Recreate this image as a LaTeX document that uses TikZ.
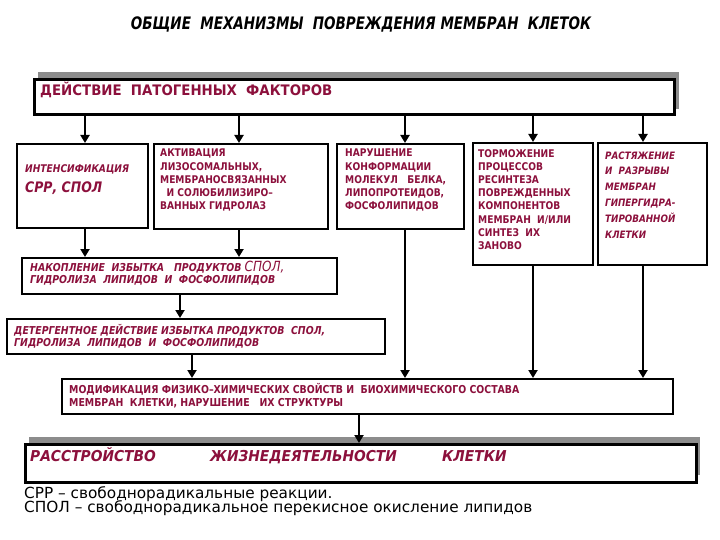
\documentclass[tikz,border=0pt]{standalone}
\usepackage{fontspec}
\setmainfont{DejaVu Sans}
\newfontfamily\cnd[FakeStretch=0.86]{DejaVu Sans}
\newfontfamily\cndt[FakeStretch=0.785]{DejaVu Sans}
\newfontfamily\cndw[FakeStretch=0.92]{DejaVu Sans}
\usetikzlibrary{arrows.meta}
\definecolor{dred}{RGB}{140,16,60}
\definecolor{shade}{RGB}{140,140,140}
\begin{document}
\begin{tikzpicture}[x=1pt,y=-1pt,
  box/.style={draw=black,line width=2.4pt,fill=white,inner sep=0pt,anchor=north west},
  bigbox/.style={box,line width=3.2pt},
  shadowbox/.style={fill=shade,draw=none,inner sep=0pt,anchor=north west},
  arr/.style={line width=2.6pt,-{Triangle[width=9pt,length=8pt]}},
  txt/.style={inner sep=0pt,anchor=north west,align=left,text=dred,
    font=\cnd\bfseries\fontsize{10.6}{13.2}\selectfont},
  itxt/.style={txt,font=\cnd\bfseries\itshape\fontsize{10.9}{12}\selectfont},
  bigword/.style={txt,anchor=base west,font=\cndw\bfseries\itshape\fontsize{15}{16}\selectfont},
  foot/.style={inner sep=0pt,anchor=base west,font=\fontsize{15.3}{16}\selectfont}
]
\useasboundingbox (0,0) rectangle (720,540);
\fill[white] (0,0) rectangle (720,540);

% title
\node[inner sep=0pt,font=\cndt\bfseries\itshape\fontsize{17.2}{18}\selectfont] (title) at (361,24)
  {ОБЩИЕ~~МЕХАНИЗМЫ~~ПОВРЕЖДЕНИЯ МЕМБРАН~~КЛЕТОК};

% top box with shadow
\node[shadowbox,minimum width=641,minimum height=37] (topsh) at (38,72) {};
\node[bigbox,minimum width=640,minimum height=35] (top) at (33,78) {};
\node[txt,anchor=base west,font=\cndw\bfseries\fontsize{14.5}{15}\selectfont] (toptxt) at (40,95.3)
  {ДЕЙСТВИЕ~~ПАТОГЕННЫХ~~ФАКТОРОВ};

% second row boxes
\node[box,minimum width=131,minimum height=84] (b1) at (16,143) {};
\node[box,minimum width=174,minimum height=85] (b2) at (153,143) {};
\node[box,minimum width=127,minimum height=85] (b3) at (336,143) {};
\node[box,minimum width=120,minimum height=122] (b4) at (472,142) {};
\node[box,minimum width=109,minimum height=122] (b5) at (597,142) {};

\node[itxt,anchor=base west,font=\cnd\bfseries\itshape\fontsize{10.6}{11}\selectfont] (t1a) at (25,172.8) {ИНТЕНСИФИКАЦИЯ};
\node[itxt,anchor=base west,font=\cnd\bfseries\itshape\fontsize{14.5}{16}\selectfont] (t1b) at (25,193) {СРР, СПОЛ};
\node[txt] (t2) at (160,149) {АКТИВАЦИЯ\\ЛИЗОСОМАЛЬНЫХ,\\МЕМБРАНОСВЯЗАННЫХ\\~~И СОЛЮБИЛИЗИРО–\\ВАННЫХ ГИДРОЛАЗ};
\node[txt] (t3) at (345,149) {НАРУШЕНИЕ\\КОНФОРМАЦИИ\\МОЛЕКУЛ~~~БЕЛКА,\\ЛИПОПРОТЕИДОВ,\\ФОСФОЛИПИДОВ};
\node[txt] (t4) at (478,149) {ТОРМОЖЕНИЕ\\ПРОЦЕССОВ\\РЕСИНТЕЗА\\ПОВРЕЖДЕННЫХ\\КОМПОНЕНТОВ\\МЕМБРАН~~И/ИЛИ\\СИНТЕЗ~~ИХ\\ЗАНОВО};
\node[itxt,font=\cnd\bfseries\itshape\fontsize{10.2}{15.8}\selectfont] (t5) at (605,151.3) {РАСТЯЖЕНИЕ\\И~~РАЗРЫВЫ\\МЕМБРАН\\ГИПЕРГИДРА-\\ТИРОВАННОЙ\\КЛЕТКИ};

% accumulation box
\node[box,minimum width=315,minimum height=36] (nak) at (21,257) {};
\node[itxt] (tnak) at (30,261) {НАКОПЛЕНИЕ~~ИЗБЫТКА~~~ПРОДУКТОВ {\mdseries\fontsize{14}{12}\selectfont СПОЛ,}\\ГИДРОЛИЗА~~ЛИПИДОВ~~И~~ФОСФОЛИПИДОВ};

% detergent box
\node[box,minimum width=378,minimum height=35] (det) at (6,318) {};
\node[itxt] (tdet) at (14,324) {ДЕТЕРГЕНТНОЕ ДЕЙСТВИЕ ИЗБЫТКА ПРОДУКТОВ~~СПОЛ,\\ГИДРОЛИЗА~~ЛИПИДОВ~~И~~ФОСФОЛИПИДОВ};

% modification box
\node[box,minimum width=611,minimum height=35] (mod) at (61,378) {};
\node[txt,font=\cnd\bfseries\fontsize{10.9}{12.7}\selectfont] (tmod) at (69,383) {МОДИФИКАЦИЯ ФИЗИКО–ХИМИЧЕСКИХ СВОЙСТВ И~~БИОХИМИЧЕСКОГО СОСТАВА\\МЕМБРАН~~КЛЕТКИ, НАРУШЕНИЕ~~~ИХ СТРУКТУРЫ};

% final box with shadow
\node[shadowbox,minimum width=671,minimum height=38] (finsh) at (29,437) {};
\node[bigbox,minimum width=671,minimum height=38] (fin) at (24,443) {};
\node[bigword] (f1) at (30,461.5) {РАССТРОЙСТВО};
\node[bigword] (f2) at (210,461.5) {ЖИЗНЕДЕЯТЕЛЬНОСТИ};
\node[bigword] (f3) at (442,461.5) {КЛЕТКИ};

% footnotes
\node[foot] (n1) at (24,498) {СРР – свободнорадикальные реакции.};
\node[foot] (n2) at (24,512.5) {СПОЛ – свободнорадикальное перекисное окисление липидов};

% connector x positions
\coordinate (xa) at (85,0);
\coordinate (xb) at (239,0);
\coordinate (xc) at (405,0);
\coordinate (xd) at (533,0);
\coordinate (xe) at (643,0);
\coordinate (xf) at (180,0);
\coordinate (xg) at (192,0);
\coordinate (xh) at (359,0);

\draw[arr] (xa |- top.south) -- (xa |- b1.north);
\draw[arr] (xb |- top.south) -- (xb |- b2.north);
\draw[arr] (xc |- top.south) -- (xc |- b3.north);
\draw[arr] (xd |- top.south) -- (xd |- b4.north);
\draw[arr] (xe |- top.south) -- (xe |- b5.north);

\draw[arr] (xa |- b1.south) -- (xa |- nak.north);
\draw[arr] (xb |- b2.south) -- (xb |- nak.north);
\draw[arr] (xf |- nak.south) -- (xf |- det.north);
\draw[arr] (xg |- det.south) -- (xg |- mod.north);
\draw[arr] (xc |- b3.south) -- (xc |- mod.north);
\draw[arr] (xd |- b4.south) -- (xd |- mod.north);
\draw[arr] (xe |- b5.south) -- (xe |- mod.north);
\draw[arr] (xh |- mod.south) -- (xh |- fin.north);
\end{tikzpicture}
\end{document}
